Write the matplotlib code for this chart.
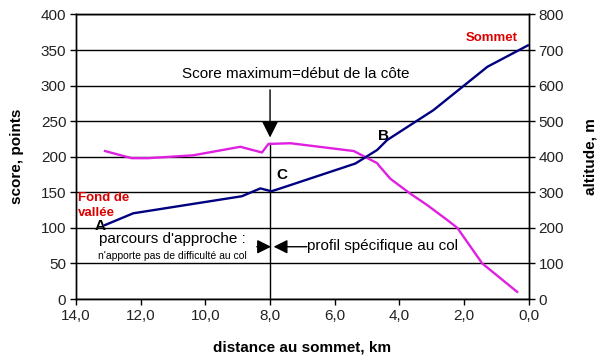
import matplotlib
matplotlib.use("Agg")
import matplotlib.pyplot as plt
from matplotlib.ticker import FuncFormatter

plt.rcParams["font.family"] = ["Liberation Sans", "DejaVu Sans"]

# score (left axis), distance to the top in km
score_km = [13.1, 12.28, 11.77, 10.38, 8.92, 8.25, 8.05, 7.37, 5.41, 4.69, 4.64, 4.28,
            3.66, 3.14, 2.52, 2.21, 1.44, 0.36]
score_pts = [208, 198, 198, 202, 214, 206, 218, 219, 208, 191, 188, 169,
             148, 132, 111, 100, 50, 10]

# altitude (right axis)
alt_km = [13.1, 12.23, 8.87, 8.30, 7.96, 7.68, 5.36, 4.69, 4.38, 2.95, 1.28, 0.03]
alt_m = [208, 241, 289, 311, 303, 311, 381, 419, 447, 531, 653, 713]

x_ticks = [14, 12, 10, 8, 6, 4, 2, 0]
score_ticks = list(range(0, 401, 50))
alt_ticks = list(range(0, 801, 100))

fig = plt.figure(figsize=(6.03, 3.62), dpi=100)
ax = fig.add_axes([0.126, 0.174, 0.751, 0.786])
ax2 = ax.twinx()

for y in score_ticks:
    ax.axhline(y, color="black", lw=1, zorder=1)

ax.plot(score_km, score_pts, color="#E020E0", lw=1.7, zorder=3)
ax2.plot(alt_km, alt_m, color="#000080", lw=1.7, zorder=3)

ax.set_xlim(14, 0)
ax.set_ylim(0, 400)
ax2.set_ylim(0, 800)
ax.set_xticks(x_ticks)
ax.set_yticks(score_ticks)
ax2.set_yticks(alt_ticks)
ax.xaxis.set_major_formatter(FuncFormatter(lambda v, p: f"{v:.1f}".replace(".", ",")))

for a in (ax, ax2):
    a.tick_params(direction="out", length=4, width=1, color="black",
                  labelsize=11, labelcolor="#222222", pad=3)
    for s in a.spines.values():
        s.set_color("black")
        s.set_linewidth(1)

ax.set_xlabel("distance au sommet, km", fontsize=11, fontweight="bold", labelpad=13)
ax.set_ylabel("score, points", fontsize=11, fontweight="bold", labelpad=12)
ax2.set_ylabel("altitude, m", fontsize=11, fontweight="bold", labelpad=14)

head = "-|>,head_length=0.6,head_width=0.3"

# vertical marker at the start of the climb
ax.plot([8.0, 8.0], [0, 219], color="black", lw=1, zorder=2)
ax.annotate("", xy=(8.0, 227), xytext=(8.0, 294),
            arrowprops=dict(arrowstyle=head, color="black", lw=1, mutation_scale=17,
                            shrinkA=0, shrinkB=0))
ax.text(10.73, 317, "Score maximum=début de la côte", fontsize=11, va="center", ha="left")

ax.annotate("", xy=(7.97, 73.5), xytext=(8.41, 73.5),
            arrowprops=dict(arrowstyle=head, color="black", lw=1, mutation_scale=14,
                            shrinkA=0, shrinkB=0))
ax.annotate("", xy=(7.89, 73.5), xytext=(6.86, 73.5),
            arrowprops=dict(arrowstyle=head, color="black", lw=1, mutation_scale=14,
                            shrinkA=0, shrinkB=0))
ax.text(6.85, 74, "profil spécifique au col", fontsize=11, va="center", ha="left")
ax.text(13.28, 85, "parcours d'approche :", fontsize=11, va="center", ha="left")
ax.text(13.31, 61, "n'apporte pas de difficulté au col", fontsize=7.5, va="center", ha="left")

ax.text(13.42, 102, "A", fontsize=11, fontweight="bold", va="center", ha="left")
ax.text(4.65, 229, "B", fontsize=11, fontweight="bold", va="center", ha="left")
ax.text(7.81, 174, "C", fontsize=11, fontweight="bold", va="center", ha="left")

ax.text(13.93, 131, "Fond de\nvallée", fontsize=9.5, fontweight="bold", color="#DD0000",
        va="center", ha="left", linespacing=1.3)
ax.text(1.96, 367, "Sommet", fontsize=9.5, fontweight="bold", color="#DD0000",
        va="center", ha="left")

fig.savefig("out.png", dpi=100, facecolor="white")
